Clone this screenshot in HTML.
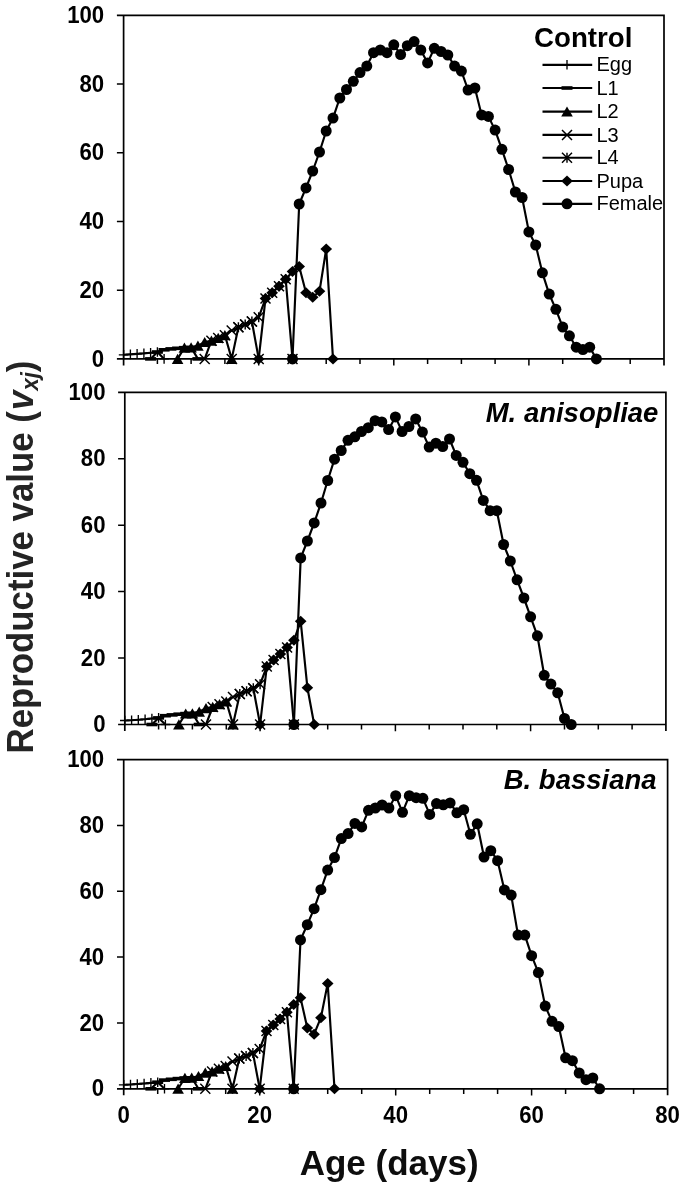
<!DOCTYPE html>
<html lang="en"><head><meta charset="utf-8"><title>Reproductive value</title>
<style>
html,body{margin:0;padding:0;background:#fff;}
body{width:685px;height:1189px;overflow:hidden;font-family:"Liberation Sans", Arial, Helvetica, sans-serif;}
svg{display:block;filter:blur(0.45px);}
text{font-family:"Liberation Sans", Arial, Helvetica, sans-serif;}
.tk{font-size:24px;font-weight:bold;fill:#000;}
.lg{font-size:20px;fill:#000;}
.ttl{font-size:27.7px;font-weight:bold;fill:#000;}
.sp{font-size:27.5px;font-weight:bold;font-style:italic;fill:#000;}
.ax{font-size:36px;font-weight:bold;fill:#242424;}
</style></head><body>
<svg width="685" height="1189" viewBox="0 0 685 1189">
<rect width="685" height="1189" fill="#fff"/>
<g><path d="M116.9 15.4H664.0V365.4" stroke="#000" stroke-width="1.7" fill="none"/>
<path d="M123.6 15.4V365.4M116.9 358.9H664.0" stroke="#000" stroke-width="1.7" fill="none"/>
<path d="M116.9 290.2H123.6M116.9 221.5H123.6M116.9 152.8H123.6M116.9 84.1H123.6M157.4 358.9V364.0M191.1 358.9V364.0M224.9 358.9V364.0M258.7 358.9V365.6M292.5 358.9V364.0M326.2 358.9V364.0M360.0 358.9V364.0M393.8 358.9V365.6M427.6 358.9V364.0M461.4 358.9V364.0M495.1 358.9V364.0M528.9 358.9V365.6M562.7 358.9V364.0M596.4 358.9V364.0M630.2 358.9V364.0" stroke="#000" stroke-width="1.5" fill="none"/>
<text class="tk" transform="translate(104.2,366.5) scale(0.925,1)" text-anchor="end">0</text>
<text class="tk" transform="translate(104.2,297.8) scale(0.925,1)" text-anchor="end">20</text>
<text class="tk" transform="translate(104.2,229.1) scale(0.925,1)" text-anchor="end">40</text>
<text class="tk" transform="translate(104.2,160.4) scale(0.925,1)" text-anchor="end">60</text>
<text class="tk" transform="translate(104.2,91.7) scale(0.925,1)" text-anchor="end">80</text>
<text class="tk" transform="translate(104.2,23.0) scale(0.925,1)" text-anchor="end">100</text>
<path d="M123.6 354.8L130.4 354.4L137.1 353.9L143.9 353.4L150.6 352.7L157.4 352.0L164.1 358.9" stroke="#000" stroke-width="2.15" fill="none" stroke-linejoin="round"/><path d="M118.8 354.8H128.4M123.6 350.0V359.6" stroke="#000" stroke-width="1.35" fill="none"/><path d="M125.6 354.4H135.2M130.4 349.6V359.2" stroke="#000" stroke-width="1.35" fill="none"/><path d="M132.3 353.9H141.9M137.1 349.1V358.7" stroke="#000" stroke-width="1.35" fill="none"/><path d="M139.1 353.4H148.7M143.9 348.6V358.2" stroke="#000" stroke-width="1.35" fill="none"/><path d="M145.8 352.7H155.4M150.6 347.9V357.5" stroke="#000" stroke-width="1.35" fill="none"/><path d="M152.6 352.0H162.2M157.4 347.2V356.8" stroke="#000" stroke-width="1.35" fill="none"/><path d="M159.3 358.9H168.9M164.1 354.1V363.7" stroke="#000" stroke-width="1.35" fill="none"/>
<path d="M150.6 358.9L157.4 352.0L164.1 349.8L170.9 348.9L177.6 348.3L184.4 347.7L191.1 347.4L197.9 358.9" stroke="#000" stroke-width="2.15" fill="none" stroke-linejoin="round"/><rect x="145.1" y="357.1" width="11" height="3.6" fill="#000"/><rect x="151.9" y="350.2" width="11" height="3.6" fill="#000"/><rect x="158.6" y="348.0" width="11" height="3.6" fill="#000"/><rect x="165.4" y="347.1" width="11" height="3.6" fill="#000"/><rect x="172.1" y="346.5" width="11" height="3.6" fill="#000"/><rect x="178.9" y="345.9" width="11" height="3.6" fill="#000"/><rect x="185.6" y="345.6" width="11" height="3.6" fill="#000"/><rect x="192.4" y="357.1" width="11" height="3.6" fill="#000"/>
<path d="M177.6 358.9L184.4 347.7L191.1 347.4L197.9 345.7L204.7 342.1L211.4 340.7L218.2 337.9L224.9 335.2L231.7 358.9" stroke="#000" stroke-width="2.15" fill="none" stroke-linejoin="round"/><path d="M177.6 353.7L183.4 363.9H171.8Z" fill="#000"/><path d="M184.4 342.5L190.2 352.7H178.6Z" fill="#000"/><path d="M191.1 342.2L196.9 352.4H185.3Z" fill="#000"/><path d="M197.9 340.5L203.7 350.7H192.1Z" fill="#000"/><path d="M204.7 336.9L210.5 347.1H198.9Z" fill="#000"/><path d="M211.4 335.5L217.2 345.7H205.6Z" fill="#000"/><path d="M218.2 332.7L224.0 342.9H212.4Z" fill="#000"/><path d="M224.9 330.0L230.7 340.2H219.1Z" fill="#000"/><path d="M231.7 353.7L237.5 363.9H225.9Z" fill="#000"/>
<path d="M204.7 358.9L211.4 340.7L218.2 337.9L224.9 335.2L231.7 330.4L238.4 327.3L245.2 324.5L251.9 321.5L258.7 358.9" stroke="#000" stroke-width="2.15" fill="none" stroke-linejoin="round"/><path d="M199.7 353.9L209.7 363.9M199.7 363.9L209.7 353.9" stroke="#000" stroke-width="1.45" fill="none"/><path d="M206.4 335.7L216.4 345.7M206.4 345.7L216.4 335.7" stroke="#000" stroke-width="1.45" fill="none"/><path d="M213.2 332.9L223.2 342.9M213.2 342.9L223.2 332.9" stroke="#000" stroke-width="1.45" fill="none"/><path d="M219.9 330.2L229.9 340.2M219.9 340.2L229.9 330.2" stroke="#000" stroke-width="1.45" fill="none"/><path d="M226.7 325.4L236.7 335.4M226.7 335.4L236.7 325.4" stroke="#000" stroke-width="1.45" fill="none"/><path d="M233.4 322.3L243.4 332.3M233.4 332.3L243.4 322.3" stroke="#000" stroke-width="1.45" fill="none"/><path d="M240.2 319.5L250.2 329.5M240.2 329.5L250.2 319.5" stroke="#000" stroke-width="1.45" fill="none"/><path d="M246.9 316.5L256.9 326.5M246.9 326.5L256.9 316.5" stroke="#000" stroke-width="1.45" fill="none"/><path d="M253.7 353.9L263.7 363.9M253.7 363.9L263.7 353.9" stroke="#000" stroke-width="1.45" fill="none"/>
<path d="M231.7 358.9L238.4 327.3L245.2 324.5L251.9 321.5L258.7 317.3L265.5 298.6L272.2 292.8L279.0 286.2L285.7 279.3L292.5 358.9" stroke="#000" stroke-width="2.15" fill="none" stroke-linejoin="round"/><path d="M226.7 353.9L236.7 363.9M226.7 363.9L236.7 353.9M231.7 353.9V363.9" stroke="#000" stroke-width="1.45" fill="none"/><path d="M233.4 322.3L243.4 332.3M233.4 332.3L243.4 322.3M238.4 322.3V332.3" stroke="#000" stroke-width="1.45" fill="none"/><path d="M240.2 319.5L250.2 329.5M240.2 329.5L250.2 319.5M245.2 319.5V329.5" stroke="#000" stroke-width="1.45" fill="none"/><path d="M246.9 316.5L256.9 326.5M246.9 326.5L256.9 316.5M251.9 316.5V326.5" stroke="#000" stroke-width="1.45" fill="none"/><path d="M253.7 312.3L263.7 322.3M253.7 322.3L263.7 312.3M258.7 312.3V322.3" stroke="#000" stroke-width="1.45" fill="none"/><path d="M260.5 293.6L270.5 303.6M260.5 303.6L270.5 293.6M265.5 293.6V303.6" stroke="#000" stroke-width="1.45" fill="none"/><path d="M267.2 287.8L277.2 297.8M267.2 297.8L277.2 287.8M272.2 287.8V297.8" stroke="#000" stroke-width="1.45" fill="none"/><path d="M274.0 281.2L284.0 291.2M274.0 291.2L284.0 281.2M279.0 281.2V291.2" stroke="#000" stroke-width="1.45" fill="none"/><path d="M280.7 274.3L290.7 284.3M280.7 284.3L290.7 274.3M285.7 274.3V284.3" stroke="#000" stroke-width="1.45" fill="none"/><path d="M287.5 353.9L297.5 363.9M287.5 363.9L297.5 353.9M292.5 353.9V363.9" stroke="#000" stroke-width="1.45" fill="none"/>
<path d="M258.7 358.9L265.5 298.6L272.2 292.8L279.0 286.2L285.7 279.3L292.5 271.6L299.2 266.5L306.0 292.8L312.7 297.2L319.5 291.3L326.2 249.0L333.0 358.9" stroke="#000" stroke-width="2.15" fill="none" stroke-linejoin="round"/><path d="M258.7 353.4L264.5 358.9L258.7 364.4L252.9 358.9Z" fill="#000"/><path d="M265.5 293.1L271.3 298.6L265.5 304.1L259.7 298.6Z" fill="#000"/><path d="M272.2 287.3L278.0 292.8L272.2 298.3L266.4 292.8Z" fill="#000"/><path d="M279.0 280.7L284.8 286.2L279.0 291.7L273.2 286.2Z" fill="#000"/><path d="M285.7 273.8L291.5 279.3L285.7 284.8L279.9 279.3Z" fill="#000"/><path d="M292.5 266.1L298.3 271.6L292.5 277.1L286.7 271.6Z" fill="#000"/><path d="M299.2 261.0L305.0 266.5L299.2 272.0L293.4 266.5Z" fill="#000"/><path d="M306.0 287.3L311.8 292.8L306.0 298.3L300.2 292.8Z" fill="#000"/><path d="M312.7 291.7L318.5 297.2L312.7 302.7L306.9 297.2Z" fill="#000"/><path d="M319.5 285.8L325.3 291.3L319.5 296.8L313.7 291.3Z" fill="#000"/><path d="M326.2 243.5L332.1 249.0L326.2 254.5L320.4 249.0Z" fill="#000"/><path d="M333.0 353.4L338.8 358.9L333.0 364.4L327.2 358.9Z" fill="#000"/>
<path d="M292.5 358.9L299.2 204.0L306.0 187.9L312.7 171.0L319.5 152.0L326.2 131.0L333.0 118.1L339.8 98.0L346.5 89.5L353.3 81.3L360.0 72.6L366.8 66.1L373.5 52.7L380.3 50.0L387.0 52.7L393.8 44.8L400.6 54.5L407.3 45.7L414.1 41.6L420.8 50.0L427.6 62.9L434.3 48.3L441.1 51.5L447.8 55.0L454.6 66.1L461.4 71.1L468.1 90.0L474.9 88.0L481.6 114.9L488.4 116.4L495.1 130.1L501.9 149.3L508.6 169.5L515.4 192.0L522.1 197.5L528.9 231.9L535.7 245.0L542.4 272.8L549.2 294.1L555.9 309.3L562.7 327.1L569.4 335.8L576.2 347.2L582.9 349.6L589.7 347.2L596.4 358.9" stroke="#000" stroke-width="2.15" fill="none" stroke-linejoin="round"/><circle cx="292.5" cy="358.9" r="5.5" fill="#000"/><circle cx="299.2" cy="204.0" r="5.5" fill="#000"/><circle cx="306.0" cy="187.9" r="5.5" fill="#000"/><circle cx="312.7" cy="171.0" r="5.5" fill="#000"/><circle cx="319.5" cy="152.0" r="5.5" fill="#000"/><circle cx="326.2" cy="131.0" r="5.5" fill="#000"/><circle cx="333.0" cy="118.1" r="5.5" fill="#000"/><circle cx="339.8" cy="98.0" r="5.5" fill="#000"/><circle cx="346.5" cy="89.5" r="5.5" fill="#000"/><circle cx="353.3" cy="81.3" r="5.5" fill="#000"/><circle cx="360.0" cy="72.6" r="5.5" fill="#000"/><circle cx="366.8" cy="66.1" r="5.5" fill="#000"/><circle cx="373.5" cy="52.7" r="5.5" fill="#000"/><circle cx="380.3" cy="50.0" r="5.5" fill="#000"/><circle cx="387.0" cy="52.7" r="5.5" fill="#000"/><circle cx="393.8" cy="44.8" r="5.5" fill="#000"/><circle cx="400.6" cy="54.5" r="5.5" fill="#000"/><circle cx="407.3" cy="45.7" r="5.5" fill="#000"/><circle cx="414.1" cy="41.6" r="5.5" fill="#000"/><circle cx="420.8" cy="50.0" r="5.5" fill="#000"/><circle cx="427.6" cy="62.9" r="5.5" fill="#000"/><circle cx="434.3" cy="48.3" r="5.5" fill="#000"/><circle cx="441.1" cy="51.5" r="5.5" fill="#000"/><circle cx="447.8" cy="55.0" r="5.5" fill="#000"/><circle cx="454.6" cy="66.1" r="5.5" fill="#000"/><circle cx="461.4" cy="71.1" r="5.5" fill="#000"/><circle cx="468.1" cy="90.0" r="5.5" fill="#000"/><circle cx="474.9" cy="88.0" r="5.5" fill="#000"/><circle cx="481.6" cy="114.9" r="5.5" fill="#000"/><circle cx="488.4" cy="116.4" r="5.5" fill="#000"/><circle cx="495.1" cy="130.1" r="5.5" fill="#000"/><circle cx="501.9" cy="149.3" r="5.5" fill="#000"/><circle cx="508.6" cy="169.5" r="5.5" fill="#000"/><circle cx="515.4" cy="192.0" r="5.5" fill="#000"/><circle cx="522.1" cy="197.5" r="5.5" fill="#000"/><circle cx="528.9" cy="231.9" r="5.5" fill="#000"/><circle cx="535.7" cy="245.0" r="5.5" fill="#000"/><circle cx="542.4" cy="272.8" r="5.5" fill="#000"/><circle cx="549.2" cy="294.1" r="5.5" fill="#000"/><circle cx="555.9" cy="309.3" r="5.5" fill="#000"/><circle cx="562.7" cy="327.1" r="5.5" fill="#000"/><circle cx="569.4" cy="335.8" r="5.5" fill="#000"/><circle cx="576.2" cy="347.2" r="5.5" fill="#000"/><circle cx="582.9" cy="349.6" r="5.5" fill="#000"/><circle cx="589.7" cy="347.2" r="5.5" fill="#000"/><circle cx="596.4" cy="358.9" r="5.5" fill="#000"/></g>
<g><path d="M118.1 392.3H665.9V731.0" stroke="#000" stroke-width="1.7" fill="none"/>
<path d="M124.8 392.3V731.0M118.1 724.5H665.9" stroke="#000" stroke-width="1.7" fill="none"/>
<path d="M118.1 658.1H124.8M118.1 591.6H124.8M118.1 525.2H124.8M118.1 458.7H124.8M158.6 724.5V729.6M192.4 724.5V729.6M226.3 724.5V729.6M260.1 724.5V731.2M293.9 724.5V729.6M327.7 724.5V729.6M361.5 724.5V729.6M395.4 724.5V731.2M429.2 724.5V729.6M463.0 724.5V729.6M496.8 724.5V729.6M530.6 724.5V731.2M564.5 724.5V729.6M598.3 724.5V729.6M632.1 724.5V729.6" stroke="#000" stroke-width="1.5" fill="none"/>
<text class="tk" transform="translate(105.5,732.1) scale(0.925,1)" text-anchor="end">0</text>
<text class="tk" transform="translate(105.5,665.7) scale(0.925,1)" text-anchor="end">20</text>
<text class="tk" transform="translate(105.5,599.2) scale(0.925,1)" text-anchor="end">40</text>
<text class="tk" transform="translate(105.5,532.8) scale(0.925,1)" text-anchor="end">60</text>
<text class="tk" transform="translate(105.5,466.3) scale(0.925,1)" text-anchor="end">80</text>
<text class="tk" transform="translate(105.5,399.9) scale(0.925,1)" text-anchor="end">100</text>
<path d="M124.8 720.5L131.6 720.2L138.3 719.7L145.1 719.2L151.9 718.5L158.6 717.9L165.4 724.5" stroke="#000" stroke-width="2.15" fill="none" stroke-linejoin="round"/><path d="M120.0 720.5H129.6M124.8 715.7V725.3" stroke="#000" stroke-width="1.35" fill="none"/><path d="M126.8 720.2H136.4M131.6 715.4V725.0" stroke="#000" stroke-width="1.35" fill="none"/><path d="M133.5 719.7H143.1M138.3 714.9V724.5" stroke="#000" stroke-width="1.35" fill="none"/><path d="M140.3 719.2H149.9M145.1 714.4V724.0" stroke="#000" stroke-width="1.35" fill="none"/><path d="M147.1 718.5H156.7M151.9 713.7V723.3" stroke="#000" stroke-width="1.35" fill="none"/><path d="M153.8 717.9H163.4M158.6 713.1V722.7" stroke="#000" stroke-width="1.35" fill="none"/><path d="M160.6 724.5H170.2M165.4 719.7V729.3" stroke="#000" stroke-width="1.35" fill="none"/>
<path d="M151.9 724.5L158.6 717.9L165.4 715.7L172.1 714.9L178.9 714.2L185.7 713.6L192.4 713.4L199.2 724.5" stroke="#000" stroke-width="2.15" fill="none" stroke-linejoin="round"/><rect x="146.4" y="722.7" width="11" height="3.6" fill="#000"/><rect x="153.1" y="716.1" width="11" height="3.6" fill="#000"/><rect x="159.9" y="713.9" width="11" height="3.6" fill="#000"/><rect x="166.6" y="713.1" width="11" height="3.6" fill="#000"/><rect x="173.4" y="712.4" width="11" height="3.6" fill="#000"/><rect x="180.2" y="711.8" width="11" height="3.6" fill="#000"/><rect x="186.9" y="711.6" width="11" height="3.6" fill="#000"/><rect x="193.7" y="722.7" width="11" height="3.6" fill="#000"/>
<path d="M178.9 724.5L185.7 713.6L192.4 713.4L199.2 711.7L206.0 708.2L212.7 706.9L219.5 704.2L226.3 701.6L233.0 724.5" stroke="#000" stroke-width="2.15" fill="none" stroke-linejoin="round"/><path d="M178.9 719.3L184.7 729.5H173.1Z" fill="#000"/><path d="M185.7 708.4L191.5 718.6H179.9Z" fill="#000"/><path d="M192.4 708.2L198.2 718.4H186.6Z" fill="#000"/><path d="M199.2 706.5L205.0 716.7H193.4Z" fill="#000"/><path d="M206.0 703.0L211.8 713.2H200.2Z" fill="#000"/><path d="M212.7 701.7L218.5 711.9H206.9Z" fill="#000"/><path d="M219.5 699.0L225.3 709.2H213.7Z" fill="#000"/><path d="M226.3 696.4L232.1 706.6H220.5Z" fill="#000"/><path d="M233.0 719.3L238.8 729.5H227.2Z" fill="#000"/>
<path d="M206.0 724.5L212.7 706.9L219.5 704.2L226.3 701.6L233.0 696.9L239.8 693.9L246.6 691.3L253.3 688.3L260.1 724.5" stroke="#000" stroke-width="2.15" fill="none" stroke-linejoin="round"/><path d="M201.0 719.5L211.0 729.5M201.0 729.5L211.0 719.5" stroke="#000" stroke-width="1.45" fill="none"/><path d="M207.7 701.9L217.7 711.9M207.7 711.9L217.7 701.9" stroke="#000" stroke-width="1.45" fill="none"/><path d="M214.5 699.2L224.5 709.2M214.5 709.2L224.5 699.2" stroke="#000" stroke-width="1.45" fill="none"/><path d="M221.3 696.6L231.3 706.6M221.3 706.6L231.3 696.6" stroke="#000" stroke-width="1.45" fill="none"/><path d="M228.0 691.9L238.0 701.9M228.0 701.9L238.0 691.9" stroke="#000" stroke-width="1.45" fill="none"/><path d="M234.8 688.9L244.8 698.9M234.8 698.9L244.8 688.9" stroke="#000" stroke-width="1.45" fill="none"/><path d="M241.6 686.3L251.6 696.3M241.6 696.3L251.6 686.3" stroke="#000" stroke-width="1.45" fill="none"/><path d="M248.3 683.3L258.3 693.3M248.3 693.3L258.3 683.3" stroke="#000" stroke-width="1.45" fill="none"/><path d="M255.1 719.5L265.1 729.5M255.1 729.5L265.1 719.5" stroke="#000" stroke-width="1.45" fill="none"/>
<path d="M233.0 724.5L239.8 693.9L246.6 691.3L253.3 688.3L260.1 684.3L266.8 666.5L273.6 660.0L280.4 654.1L287.1 647.6L293.9 724.5" stroke="#000" stroke-width="2.15" fill="none" stroke-linejoin="round"/><path d="M228.0 719.5L238.0 729.5M228.0 729.5L238.0 719.5M233.0 719.5V729.5" stroke="#000" stroke-width="1.45" fill="none"/><path d="M234.8 688.9L244.8 698.9M234.8 698.9L244.8 688.9M239.8 688.9V698.9" stroke="#000" stroke-width="1.45" fill="none"/><path d="M241.6 686.3L251.6 696.3M241.6 696.3L251.6 686.3M246.6 686.3V696.3" stroke="#000" stroke-width="1.45" fill="none"/><path d="M248.3 683.3L258.3 693.3M248.3 693.3L258.3 683.3M253.3 683.3V693.3" stroke="#000" stroke-width="1.45" fill="none"/><path d="M255.1 679.3L265.1 689.3M255.1 689.3L265.1 679.3M260.1 679.3V689.3" stroke="#000" stroke-width="1.45" fill="none"/><path d="M261.8 661.5L271.8 671.5M261.8 671.5L271.8 661.5M266.8 661.5V671.5" stroke="#000" stroke-width="1.45" fill="none"/><path d="M268.6 655.0L278.6 665.0M268.6 665.0L278.6 655.0M273.6 655.0V665.0" stroke="#000" stroke-width="1.45" fill="none"/><path d="M275.4 649.1L285.4 659.1M275.4 659.1L285.4 649.1M280.4 649.1V659.1" stroke="#000" stroke-width="1.45" fill="none"/><path d="M282.1 642.6L292.1 652.6M282.1 652.6L292.1 642.6M287.1 642.6V652.6" stroke="#000" stroke-width="1.45" fill="none"/><path d="M288.9 719.5L298.9 729.5M288.9 729.5L298.9 719.5M293.9 719.5V729.5" stroke="#000" stroke-width="1.45" fill="none"/>
<path d="M260.1 724.5L266.8 666.5L273.6 660.0L280.4 654.1L287.1 647.6L293.9 640.3L300.7 621.3L307.4 687.7L314.2 724.5" stroke="#000" stroke-width="2.15" fill="none" stroke-linejoin="round"/><path d="M260.1 719.0L265.9 724.5L260.1 730.0L254.3 724.5Z" fill="#000"/><path d="M266.8 661.0L272.6 666.5L266.8 672.0L261.0 666.5Z" fill="#000"/><path d="M273.6 654.5L279.4 660.0L273.6 665.5L267.8 660.0Z" fill="#000"/><path d="M280.4 648.6L286.2 654.1L280.4 659.6L274.6 654.1Z" fill="#000"/><path d="M287.1 642.1L292.9 647.6L287.1 653.1L281.3 647.6Z" fill="#000"/><path d="M293.9 634.8L299.7 640.3L293.9 645.8L288.1 640.3Z" fill="#000"/><path d="M300.7 615.8L306.5 621.3L300.7 626.8L294.9 621.3Z" fill="#000"/><path d="M307.4 682.2L313.2 687.7L307.4 693.2L301.6 687.7Z" fill="#000"/><path d="M314.2 719.0L320.0 724.5L314.2 730.0L308.4 724.5Z" fill="#000"/>
<path d="M293.9 724.5L300.7 557.9L307.4 541.0L314.2 522.9L321.0 503.0L327.7 480.5L334.5 459.2L341.2 450.5L348.0 440.3L354.8 436.8L361.5 431.5L368.3 427.7L375.1 420.7L381.8 421.9L388.6 429.5L395.4 416.9L402.1 431.5L408.9 426.5L415.7 418.9L422.4 432.1L429.2 447.0L435.9 443.2L442.7 446.6L449.5 439.0L456.2 455.4L463.0 462.3L469.8 473.7L476.5 480.3L483.3 500.4L490.1 510.7L496.8 510.7L503.6 544.5L510.3 561.0L517.1 579.8L523.9 598.0L530.6 616.8L537.4 635.8L544.2 675.3L550.9 684.1L557.7 692.8L564.5 718.5L571.2 724.5" stroke="#000" stroke-width="2.15" fill="none" stroke-linejoin="round"/><circle cx="293.9" cy="724.5" r="5.5" fill="#000"/><circle cx="300.7" cy="557.9" r="5.5" fill="#000"/><circle cx="307.4" cy="541.0" r="5.5" fill="#000"/><circle cx="314.2" cy="522.9" r="5.5" fill="#000"/><circle cx="321.0" cy="503.0" r="5.5" fill="#000"/><circle cx="327.7" cy="480.5" r="5.5" fill="#000"/><circle cx="334.5" cy="459.2" r="5.5" fill="#000"/><circle cx="341.2" cy="450.5" r="5.5" fill="#000"/><circle cx="348.0" cy="440.3" r="5.5" fill="#000"/><circle cx="354.8" cy="436.8" r="5.5" fill="#000"/><circle cx="361.5" cy="431.5" r="5.5" fill="#000"/><circle cx="368.3" cy="427.7" r="5.5" fill="#000"/><circle cx="375.1" cy="420.7" r="5.5" fill="#000"/><circle cx="381.8" cy="421.9" r="5.5" fill="#000"/><circle cx="388.6" cy="429.5" r="5.5" fill="#000"/><circle cx="395.4" cy="416.9" r="5.5" fill="#000"/><circle cx="402.1" cy="431.5" r="5.5" fill="#000"/><circle cx="408.9" cy="426.5" r="5.5" fill="#000"/><circle cx="415.7" cy="418.9" r="5.5" fill="#000"/><circle cx="422.4" cy="432.1" r="5.5" fill="#000"/><circle cx="429.2" cy="447.0" r="5.5" fill="#000"/><circle cx="435.9" cy="443.2" r="5.5" fill="#000"/><circle cx="442.7" cy="446.6" r="5.5" fill="#000"/><circle cx="449.5" cy="439.0" r="5.5" fill="#000"/><circle cx="456.2" cy="455.4" r="5.5" fill="#000"/><circle cx="463.0" cy="462.3" r="5.5" fill="#000"/><circle cx="469.8" cy="473.7" r="5.5" fill="#000"/><circle cx="476.5" cy="480.3" r="5.5" fill="#000"/><circle cx="483.3" cy="500.4" r="5.5" fill="#000"/><circle cx="490.1" cy="510.7" r="5.5" fill="#000"/><circle cx="496.8" cy="510.7" r="5.5" fill="#000"/><circle cx="503.6" cy="544.5" r="5.5" fill="#000"/><circle cx="510.3" cy="561.0" r="5.5" fill="#000"/><circle cx="517.1" cy="579.8" r="5.5" fill="#000"/><circle cx="523.9" cy="598.0" r="5.5" fill="#000"/><circle cx="530.6" cy="616.8" r="5.5" fill="#000"/><circle cx="537.4" cy="635.8" r="5.5" fill="#000"/><circle cx="544.2" cy="675.3" r="5.5" fill="#000"/><circle cx="550.9" cy="684.1" r="5.5" fill="#000"/><circle cx="557.7" cy="692.8" r="5.5" fill="#000"/><circle cx="564.5" cy="718.5" r="5.5" fill="#000"/><circle cx="571.2" cy="724.5" r="5.5" fill="#000"/></g>
<g><path d="M117.0 759.6H667.6V1095.3" stroke="#000" stroke-width="1.7" fill="none"/>
<path d="M123.7 759.6V1095.3M117.0 1088.8H667.6" stroke="#000" stroke-width="1.7" fill="none"/>
<path d="M117.0 1023.0H123.7M117.0 957.1H123.7M117.0 891.3H123.7M117.0 825.4H123.7M157.7 1088.8V1093.9M191.7 1088.8V1093.9M225.7 1088.8V1093.9M259.7 1088.8V1095.5M293.7 1088.8V1093.9M327.7 1088.8V1093.9M361.7 1088.8V1093.9M395.7 1088.8V1095.5M429.7 1088.8V1093.9M463.7 1088.8V1093.9M497.6 1088.8V1093.9M531.6 1088.8V1095.5M565.6 1088.8V1093.9M599.6 1088.8V1093.9M633.6 1088.8V1093.9" stroke="#000" stroke-width="1.5" fill="none"/>
<text class="tk" transform="translate(104.2,1096.4) scale(0.925,1)" text-anchor="end">0</text>
<text class="tk" transform="translate(104.2,1030.6) scale(0.925,1)" text-anchor="end">20</text>
<text class="tk" transform="translate(104.2,964.7) scale(0.925,1)" text-anchor="end">40</text>
<text class="tk" transform="translate(104.2,898.9) scale(0.925,1)" text-anchor="end">60</text>
<text class="tk" transform="translate(104.2,833.0) scale(0.925,1)" text-anchor="end">80</text>
<text class="tk" transform="translate(104.2,767.2) scale(0.925,1)" text-anchor="end">100</text>
<path d="M123.7 1084.8L130.5 1084.5L137.3 1084.0L144.1 1083.5L150.9 1082.9L157.7 1082.2L164.5 1088.8" stroke="#000" stroke-width="2.15" fill="none" stroke-linejoin="round"/><path d="M118.9 1084.8H128.5M123.7 1080.0V1089.6" stroke="#000" stroke-width="1.35" fill="none"/><path d="M125.7 1084.5H135.3M130.5 1079.7V1089.3" stroke="#000" stroke-width="1.35" fill="none"/><path d="M132.5 1084.0H142.1M137.3 1079.2V1088.8" stroke="#000" stroke-width="1.35" fill="none"/><path d="M139.3 1083.5H148.9M144.1 1078.7V1088.3" stroke="#000" stroke-width="1.35" fill="none"/><path d="M146.1 1082.9H155.7M150.9 1078.1V1087.7" stroke="#000" stroke-width="1.35" fill="none"/><path d="M152.9 1082.2H162.5M157.7 1077.4V1087.0" stroke="#000" stroke-width="1.35" fill="none"/><path d="M159.7 1088.8H169.3M164.5 1084.0V1093.6" stroke="#000" stroke-width="1.35" fill="none"/>
<path d="M150.9 1088.8L157.7 1082.2L164.5 1080.1L171.3 1079.3L178.1 1078.6L184.9 1078.0L191.7 1077.8L198.5 1088.8" stroke="#000" stroke-width="2.15" fill="none" stroke-linejoin="round"/><rect x="145.4" y="1087.0" width="11" height="3.6" fill="#000"/><rect x="152.2" y="1080.4" width="11" height="3.6" fill="#000"/><rect x="159.0" y="1078.3" width="11" height="3.6" fill="#000"/><rect x="165.8" y="1077.5" width="11" height="3.6" fill="#000"/><rect x="172.6" y="1076.8" width="11" height="3.6" fill="#000"/><rect x="179.4" y="1076.2" width="11" height="3.6" fill="#000"/><rect x="186.2" y="1076.0" width="11" height="3.6" fill="#000"/><rect x="193.0" y="1087.0" width="11" height="3.6" fill="#000"/>
<path d="M178.1 1088.8L184.9 1078.0L191.7 1077.8L198.5 1076.1L205.3 1072.7L212.1 1071.4L218.9 1068.7L225.7 1066.1L232.5 1088.8" stroke="#000" stroke-width="2.15" fill="none" stroke-linejoin="round"/><path d="M178.1 1083.6L183.9 1093.8H172.3Z" fill="#000"/><path d="M184.9 1072.8L190.7 1083.0H179.1Z" fill="#000"/><path d="M191.7 1072.6L197.5 1082.8H185.9Z" fill="#000"/><path d="M198.5 1070.9L204.3 1081.1H192.7Z" fill="#000"/><path d="M205.3 1067.5L211.1 1077.7H199.5Z" fill="#000"/><path d="M212.1 1066.2L217.9 1076.4H206.3Z" fill="#000"/><path d="M218.9 1063.5L224.7 1073.7H213.1Z" fill="#000"/><path d="M225.7 1060.9L231.5 1071.1H219.9Z" fill="#000"/><path d="M232.5 1083.6L238.3 1093.8H226.7Z" fill="#000"/>
<path d="M205.3 1088.8L212.1 1071.4L218.9 1068.7L225.7 1066.1L232.5 1061.5L239.3 1058.5L246.1 1055.9L252.9 1052.9L259.7 1088.8" stroke="#000" stroke-width="2.15" fill="none" stroke-linejoin="round"/><path d="M200.3 1083.8L210.3 1093.8M200.3 1093.8L210.3 1083.8" stroke="#000" stroke-width="1.45" fill="none"/><path d="M207.1 1066.4L217.1 1076.4M207.1 1076.4L217.1 1066.4" stroke="#000" stroke-width="1.45" fill="none"/><path d="M213.9 1063.7L223.9 1073.7M213.9 1073.7L223.9 1063.7" stroke="#000" stroke-width="1.45" fill="none"/><path d="M220.7 1061.1L230.7 1071.1M220.7 1071.1L230.7 1061.1" stroke="#000" stroke-width="1.45" fill="none"/><path d="M227.5 1056.5L237.5 1066.5M227.5 1066.5L237.5 1056.5" stroke="#000" stroke-width="1.45" fill="none"/><path d="M234.3 1053.5L244.3 1063.5M234.3 1063.5L244.3 1053.5" stroke="#000" stroke-width="1.45" fill="none"/><path d="M241.1 1050.9L251.1 1060.9M241.1 1060.9L251.1 1050.9" stroke="#000" stroke-width="1.45" fill="none"/><path d="M247.9 1047.9L257.9 1057.9M247.9 1057.9L257.9 1047.9" stroke="#000" stroke-width="1.45" fill="none"/><path d="M254.7 1083.8L264.7 1093.8M254.7 1093.8L264.7 1083.8" stroke="#000" stroke-width="1.45" fill="none"/>
<path d="M232.5 1088.8L239.3 1058.5L246.1 1055.9L252.9 1052.9L259.7 1049.0L266.5 1031.1L273.3 1025.0L280.1 1019.1L286.9 1012.3L293.7 1088.8" stroke="#000" stroke-width="2.15" fill="none" stroke-linejoin="round"/><path d="M227.5 1083.8L237.5 1093.8M227.5 1093.8L237.5 1083.8M232.5 1083.8V1093.8" stroke="#000" stroke-width="1.45" fill="none"/><path d="M234.3 1053.5L244.3 1063.5M234.3 1063.5L244.3 1053.5M239.3 1053.5V1063.5" stroke="#000" stroke-width="1.45" fill="none"/><path d="M241.1 1050.9L251.1 1060.9M241.1 1060.9L251.1 1050.9M246.1 1050.9V1060.9" stroke="#000" stroke-width="1.45" fill="none"/><path d="M247.9 1047.9L257.9 1057.9M247.9 1057.9L257.9 1047.9M252.9 1047.9V1057.9" stroke="#000" stroke-width="1.45" fill="none"/><path d="M254.7 1044.0L264.7 1054.0M254.7 1054.0L264.7 1044.0M259.7 1044.0V1054.0" stroke="#000" stroke-width="1.45" fill="none"/><path d="M261.5 1026.1L271.5 1036.1M261.5 1036.1L271.5 1026.1M266.5 1026.1V1036.1" stroke="#000" stroke-width="1.45" fill="none"/><path d="M268.3 1020.0L278.3 1030.0M268.3 1030.0L278.3 1020.0M273.3 1020.0V1030.0" stroke="#000" stroke-width="1.45" fill="none"/><path d="M275.1 1014.1L285.1 1024.1M275.1 1024.1L285.1 1014.1M280.1 1014.1V1024.1" stroke="#000" stroke-width="1.45" fill="none"/><path d="M281.9 1007.3L291.9 1017.3M281.9 1017.3L291.9 1007.3M286.9 1007.3V1017.3" stroke="#000" stroke-width="1.45" fill="none"/><path d="M288.7 1083.8L298.7 1093.8M288.7 1093.8L298.7 1083.8M293.7 1083.8V1093.8" stroke="#000" stroke-width="1.45" fill="none"/>
<path d="M259.7 1088.8L266.5 1031.1L273.3 1025.0L280.1 1019.1L286.9 1012.3L293.7 1004.5L300.5 997.7L307.3 1027.9L314.1 1034.2L320.9 1017.7L327.7 983.4L334.5 1088.8" stroke="#000" stroke-width="2.15" fill="none" stroke-linejoin="round"/><path d="M259.7 1083.3L265.5 1088.8L259.7 1094.3L253.9 1088.8Z" fill="#000"/><path d="M266.5 1025.6L272.3 1031.1L266.5 1036.6L260.7 1031.1Z" fill="#000"/><path d="M273.3 1019.5L279.1 1025.0L273.3 1030.5L267.5 1025.0Z" fill="#000"/><path d="M280.1 1013.6L285.9 1019.1L280.1 1024.6L274.3 1019.1Z" fill="#000"/><path d="M286.9 1006.8L292.7 1012.3L286.9 1017.8L281.1 1012.3Z" fill="#000"/><path d="M293.7 999.0L299.5 1004.5L293.7 1010.0L287.9 1004.5Z" fill="#000"/><path d="M300.5 992.2L306.3 997.7L300.5 1003.2L294.7 997.7Z" fill="#000"/><path d="M307.3 1022.4L313.1 1027.9L307.3 1033.4L301.5 1027.9Z" fill="#000"/><path d="M314.1 1028.7L319.9 1034.2L314.1 1039.7L308.3 1034.2Z" fill="#000"/><path d="M320.9 1012.2L326.7 1017.7L320.9 1023.2L315.1 1017.7Z" fill="#000"/><path d="M327.7 977.9L333.5 983.4L327.7 988.9L321.9 983.4Z" fill="#000"/><path d="M334.5 1083.3L340.3 1088.8L334.5 1094.3L328.7 1088.8Z" fill="#000"/>
<path d="M293.7 1088.8L300.5 939.9L307.3 924.7L314.1 908.7L320.9 889.7L327.7 870.1L334.5 857.6L341.3 838.6L348.1 833.6L354.9 823.4L361.7 826.9L368.5 810.3L375.3 808.0L382.1 805.0L388.9 808.0L395.7 795.7L402.5 812.3L409.3 795.7L416.1 797.7L422.9 798.3L429.7 814.4L436.5 803.6L443.3 804.8L450.1 802.9L456.9 812.8L463.7 809.7L470.4 834.3L477.2 823.8L484.0 857.0L490.8 850.7L497.6 860.7L504.4 889.9L511.2 895.1L518.0 935.1L524.8 935.1L531.6 955.7L538.4 972.6L545.2 1006.1L552.0 1021.3L558.8 1026.6L565.6 1057.8L572.4 1060.7L579.2 1073.0L586.0 1079.7L592.8 1078.0L599.6 1088.8" stroke="#000" stroke-width="2.15" fill="none" stroke-linejoin="round"/><circle cx="293.7" cy="1088.8" r="5.5" fill="#000"/><circle cx="300.5" cy="939.9" r="5.5" fill="#000"/><circle cx="307.3" cy="924.7" r="5.5" fill="#000"/><circle cx="314.1" cy="908.7" r="5.5" fill="#000"/><circle cx="320.9" cy="889.7" r="5.5" fill="#000"/><circle cx="327.7" cy="870.1" r="5.5" fill="#000"/><circle cx="334.5" cy="857.6" r="5.5" fill="#000"/><circle cx="341.3" cy="838.6" r="5.5" fill="#000"/><circle cx="348.1" cy="833.6" r="5.5" fill="#000"/><circle cx="354.9" cy="823.4" r="5.5" fill="#000"/><circle cx="361.7" cy="826.9" r="5.5" fill="#000"/><circle cx="368.5" cy="810.3" r="5.5" fill="#000"/><circle cx="375.3" cy="808.0" r="5.5" fill="#000"/><circle cx="382.1" cy="805.0" r="5.5" fill="#000"/><circle cx="388.9" cy="808.0" r="5.5" fill="#000"/><circle cx="395.7" cy="795.7" r="5.5" fill="#000"/><circle cx="402.5" cy="812.3" r="5.5" fill="#000"/><circle cx="409.3" cy="795.7" r="5.5" fill="#000"/><circle cx="416.1" cy="797.7" r="5.5" fill="#000"/><circle cx="422.9" cy="798.3" r="5.5" fill="#000"/><circle cx="429.7" cy="814.4" r="5.5" fill="#000"/><circle cx="436.5" cy="803.6" r="5.5" fill="#000"/><circle cx="443.3" cy="804.8" r="5.5" fill="#000"/><circle cx="450.1" cy="802.9" r="5.5" fill="#000"/><circle cx="456.9" cy="812.8" r="5.5" fill="#000"/><circle cx="463.7" cy="809.7" r="5.5" fill="#000"/><circle cx="470.4" cy="834.3" r="5.5" fill="#000"/><circle cx="477.2" cy="823.8" r="5.5" fill="#000"/><circle cx="484.0" cy="857.0" r="5.5" fill="#000"/><circle cx="490.8" cy="850.7" r="5.5" fill="#000"/><circle cx="497.6" cy="860.7" r="5.5" fill="#000"/><circle cx="504.4" cy="889.9" r="5.5" fill="#000"/><circle cx="511.2" cy="895.1" r="5.5" fill="#000"/><circle cx="518.0" cy="935.1" r="5.5" fill="#000"/><circle cx="524.8" cy="935.1" r="5.5" fill="#000"/><circle cx="531.6" cy="955.7" r="5.5" fill="#000"/><circle cx="538.4" cy="972.6" r="5.5" fill="#000"/><circle cx="545.2" cy="1006.1" r="5.5" fill="#000"/><circle cx="552.0" cy="1021.3" r="5.5" fill="#000"/><circle cx="558.8" cy="1026.6" r="5.5" fill="#000"/><circle cx="565.6" cy="1057.8" r="5.5" fill="#000"/><circle cx="572.4" cy="1060.7" r="5.5" fill="#000"/><circle cx="579.2" cy="1073.0" r="5.5" fill="#000"/><circle cx="586.0" cy="1079.7" r="5.5" fill="#000"/><circle cx="592.8" cy="1078.0" r="5.5" fill="#000"/><circle cx="599.6" cy="1088.8" r="5.5" fill="#000"/></g>
<text class="tk" transform="translate(123.7,1123.4) scale(0.925,1)" text-anchor="middle">0</text><text class="tk" transform="translate(259.7,1123.4) scale(0.925,1)" text-anchor="middle">20</text><text class="tk" transform="translate(395.7,1123.4) scale(0.925,1)" text-anchor="middle">40</text><text class="tk" transform="translate(531.6,1123.4) scale(0.925,1)" text-anchor="middle">60</text><text class="tk" transform="translate(667.6,1123.4) scale(0.925,1)" text-anchor="middle">80</text><text class="ttl" x="534" y="47">Control</text><path d="M542.5 64.8H592.2" stroke="#000" stroke-width="2.15" fill="none"/><path d="M562.2 64.8H571.8M567.0 60.0V69.6" stroke="#000" stroke-width="1.35" fill="none"/><text class="lg" x="596.5" y="71.4">Egg</text><path d="M542.5 88.0H592.2" stroke="#000" stroke-width="2.15" fill="none"/><rect x="561.5" y="86.2" width="11" height="3.6" fill="#000"/><text class="lg" x="596.5" y="94.6">L1</text><path d="M542.5 111.6H592.2" stroke="#000" stroke-width="2.15" fill="none"/><path d="M567.0 106.4L572.8 116.6H561.2Z" fill="#000"/><text class="lg" x="596.5" y="118.2">L2</text><path d="M542.5 134.9H592.2" stroke="#000" stroke-width="2.15" fill="none"/><path d="M562.0 129.9L572.0 139.9M562.0 139.9L572.0 129.9" stroke="#000" stroke-width="1.45" fill="none"/><text class="lg" x="596.5" y="141.5">L3</text><path d="M542.5 157.7H592.2" stroke="#000" stroke-width="2.15" fill="none"/><path d="M562.0 152.7L572.0 162.7M562.0 162.7L572.0 152.7M567.0 152.7V162.7" stroke="#000" stroke-width="1.45" fill="none"/><text class="lg" x="596.5" y="164.3">L4</text><path d="M542.5 181.0H592.2" stroke="#000" stroke-width="2.15" fill="none"/><path d="M567.0 175.5L572.8 181.0L567.0 186.5L561.2 181.0Z" fill="#000"/><text class="lg" x="596.5" y="187.6">Pupa</text><path d="M542.5 203.8H592.2" stroke="#000" stroke-width="2.15" fill="none"/><circle cx="567.0" cy="203.8" r="5.5" fill="#000"/><text class="lg" x="596.5" y="210.4">Female</text><text class="sp" x="658.4" y="422.1" text-anchor="end">M. anisopliae</text><text class="sp" x="656.6" y="788.8" text-anchor="end">B. bassiana</text><text class="ax" style="fill:#0d0d0d" transform="translate(389.2,1174.8) scale(0.973,1)" text-anchor="middle">Age (days)</text><text class="ax" style="font-size:37px" transform="translate(33,557.0) rotate(-90) scale(0.941,1)" text-anchor="middle">Reproductive value (<tspan font-style="italic" dx="1.3">v</tspan><tspan font-style="italic" font-size="23.5px" dy="5.2">xj</tspan><tspan dy="-5.2">)</tspan></text></svg></body></html>
